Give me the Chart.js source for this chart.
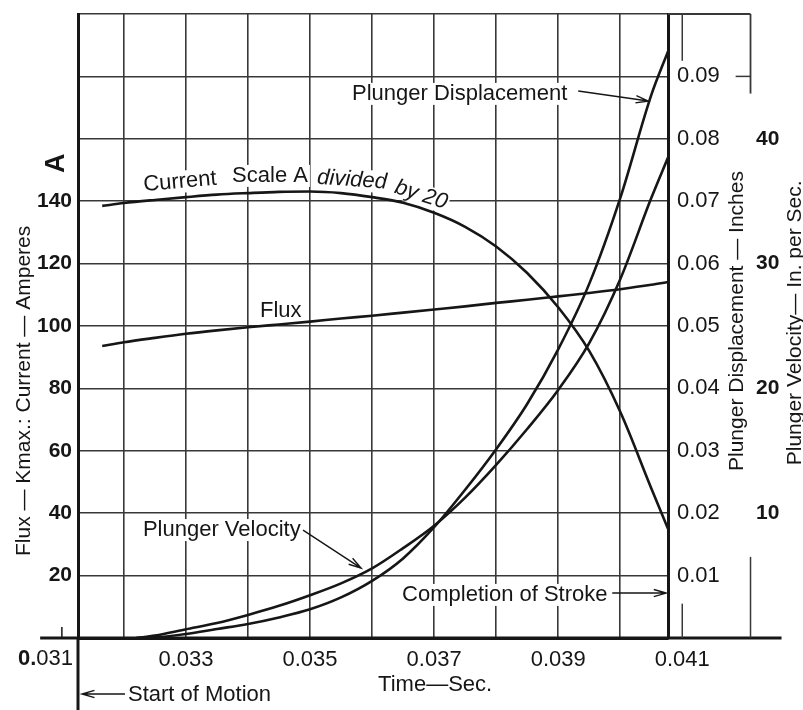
<!DOCTYPE html>
<html>
<head>
<meta charset="utf-8">
<script src="https://cdn.jsdelivr.net/npm/chart.js@4.4.1/dist/chart.umd.min.js"></script>
<style>
    html, body { margin: 0; padding: 0; background: #fff; }
    #wrap { width: 803px; height: 710px; }
</style>
</head>
<body>
<div id="wrap"><canvas id="grafica" width="803" height="710"></canvas></div>
<script>
/*********************************** DATOS LEIDOS DE LA GRAFICA ***********************************/
// tiempo (s) de las curvas de corriente y flujo
const timeA = [0.03165, 0.0320, 0.0325, 0.0330, 0.0335, 0.0340, 0.0345, 0.0350, 0.0355, 0.0360,
    0.0365, 0.0370, 0.0375, 0.0380, 0.0385, 0.0390, 0.0395, 0.0400, 0.0405, 0.04077];
// corriente (escala A dividida por 20) y flujo (Kmax), eje izquierdo
const current = [138.5, 139.4, 140.4, 141.3, 142.1, 142.6, 143.0, 143.1, 142.6, 141.3,
    139.5, 136.3, 131.8, 125.5, 117.0, 106.0, 92.0, 72.5, 48.0, 35.0];
const flux = [93.6, 94.8, 96.2, 97.5, 98.6, 99.6, 100.5, 101.4, 102.4, 103.3,
    104.3, 105.3, 106.3, 107.4, 108.4, 109.5, 110.6, 111.8, 113.2, 114.1];

// tiempo (s) del movimiento del embolo
const timeMotion = [0.0322, 0.0325, 0.0330, 0.0335, 0.0340, 0.0345, 0.0350, 0.0355, 0.0360, 0.0365,
    0.0370, 0.0375, 0.0380, 0.0385, 0.0390, 0.0395, 0.0400, 0.0405, 0.04077];
// desplazamiento (pulgadas) y velocidad (pulgadas por segundo)
const displacement = [0, 0.0001, 0.00065, 0.00145, 0.00225, 0.0033, 0.0046, 0.0065, 0.00915, 0.01275,
    0.01775, 0.02375, 0.03025, 0.0375, 0.04625, 0.05675, 0.0705, 0.087, 0.094];
const velocity = [0, 0.2, 0.7, 1.2, 1.85, 2.575, 3.425, 4.375, 5.575, 7.2,
    9.0, 11.25, 13.875, 16.75, 19.875, 23.625, 28.75, 35.25, 38.5];

// ticks de los ejes
const timeGrid = [0.032, 0.033, 0.034, 0.035, 0.036, 0.037, 0.038, 0.039, 0.040, 0.041];
const timeLabels = ["0.033", "0.035", "0.037", "0.039", "0.041"];
const leftGrid = [0, 20, 40, 60, 80, 100, 120, 140, 160, 180, 200];
const leftLabels = [20, 40, 60, 80, 100, 120, 140];
const dispLabels = [0.01, 0.02, 0.03, 0.04, 0.05, 0.06, 0.07, 0.08, 0.09];
const velLabels = [10, 20, 30, 40];

// inicio del movimiento y fin de carrera
const startOfMotion = 0.03126;
const endOfStroke = 0.04077;
/**************************************************************************************************/

const FONT = '"Liberation Sans", Arial, sans-serif';
const INK = "#161616";
const GRID = "#383838";

function pares(xs, ys) {
    return xs.map((x, i) => ({ x: x, y: ys[i] }));
}

function flecha(ctx, x1, y1, x2, y2) {
    const ang = Math.atan2(y2 - y1, x2 - x1);
    ctx.beginPath();
    ctx.moveTo(x1, y1);
    ctx.lineTo(x2, y2);
    ctx.moveTo(x2 - 13 * Math.cos(ang - 0.28), y2 - 13 * Math.sin(ang - 0.28));
    ctx.lineTo(x2, y2);
    ctx.lineTo(x2 - 13 * Math.cos(ang + 0.28), y2 - 13 * Math.sin(ang + 0.28));
    ctx.stroke();
}

function texto(ctx, str, x, y, font, align, angle, fondo) {
    ctx.save();
    ctx.translate(x, y);
    ctx.rotate(((angle || 0) * Math.PI) / 180);
    ctx.font = font;
    ctx.textAlign = align || "left";
    ctx.textBaseline = "middle";
    if (fondo) {
        const w = ctx.measureText(str).width;
        const x0 = ctx.textAlign === "left" ? 0 : ctx.textAlign === "center" ? -w / 2 : -w;
        ctx.fillStyle = "#fff";
        ctx.fillRect(x0 - 2, -11, w + 4, 22);
    }
    ctx.fillStyle = INK;
    ctx.fillText(str, 0, 0);
    ctx.restore();
}

function linea(ctx, x1, y1, x2, y2, w) {
    ctx.lineWidth = w;
    ctx.beginPath();
    ctx.moveTo(x1, y1);
    ctx.lineTo(x2, y2);
    ctx.stroke();
}

// Dibujos extra: etiquetas de curvas, titulos de ejes, trozos de rejilla fuera del area
const decoraciones = {
    id: "decoraciones",
    beforeDraw(chart) {
        const ctx = chart.ctx;
        ctx.save();
        ctx.fillStyle = "#fff";
        ctx.fillRect(0, 0, chart.width, chart.height);
        ctx.restore();
    },
    beforeDatasetsDraw(chart) {
        const ctx = chart.ctx;
        const px = (t) => chart.scales.x.getPixelForValue(t);
        const py = (v) => chart.scales.y.getPixelForValue(v);
        const f = "22px " + FONT;
        const fi = "italic 22px " + FONT;
        ctx.save();
        // etiquetas de las curvas
        texto(ctx, "Current", px(0.032903), py(146.2), f, "center", -5, true);
        texto(ctx, "Scale A", px(0.034355), py(148.1), f, "center", 0, true);
        texto(ctx, "divided", px(0.035677), py(146.8), fi, "center", 4, true);
        texto(ctx, "by 20", px(0.03679), py(142.0), fi, "center", 18, true);
        texto(ctx, "Flux", px(0.034194), py(104.8), f, "left", 0, true);
        texto(ctx, "Plunger Displacement", px(0.035677), py(174.4), f, "left", 0, true);
        texto(ctx, "Plunger Velocity", px(0.032306), py(34.6), f, "left", 0, true);
        texto(ctx, "Completion of Stroke", px(0.036484), py(13.8), f, "left", 0, true);

        // flechas
        ctx.strokeStyle = INK;
        ctx.lineWidth = 1.4;
        flecha(ctx, px(0.039323), py(175.3), px(0.040452), py(172.1));
        flecha(ctx, px(0.034887), py(34.6), px(0.035823), py(22.4));
        flecha(ctx, px(0.039871), py(14.4), px(0.040742), py(14.4));
        ctx.restore();
    },
    afterDraw(chart) {
        const ctx = chart.ctx;
        const area = chart.chartArea;
        const px = (t) => chart.scales.x.getPixelForValue(t);
        const py = (v) => chart.scales.y.getPixelForValue(v);
        ctx.save();
        ctx.strokeStyle = INK;

        // eje de tiempos prolongado y linea de inicio del movimiento
        linea(ctx, px(0.03065), py(0), px(0.0426), py(0), 3);
        linea(ctx, area.left, area.bottom, area.left, chart.height, 3);
        // marca de 0.031
        linea(ctx, px(0.031), py(0), px(0.031), py(0) - 11, 1.5);

        // trozos de rejilla a la derecha del fin de carrera
        ctx.strokeStyle = GRID;
        linea(ctx, px(endOfStroke), py(200), px(0.0421), py(200), 1.8);
        linea(ctx, px(0.0421), py(200), px(0.0421), py(174.5), 1.8);
        linea(ctx, px(0.04186), py(180), px(0.0421), py(180), 1.5);
        linea(ctx, px(0.041), py(200), px(0.041), py(185), 1.5);
        linea(ctx, px(0.041), py(11), px(0.041), py(0), 1.5);
        linea(ctx, px(0.0421), py(26), px(0.0421), py(0), 1.5);

        // etiqueta 0.031 con "0." en negrita
        ctx.font = "22px " + FONT;
        ctx.textAlign = "right";
        ctx.textBaseline = "middle";
        ctx.fillStyle = INK;
        const yLab = py(0) + 21;
        const xLab = area.left - 5;
        const w031 = ctx.measureText("031").width;
        ctx.fillText("031", xLab, yLab);
        ctx.font = "bold 22px " + FONT;
        ctx.fillText("0.", xLab - w031, yLab);

        // titulos de los ejes
        ctx.strokeStyle = INK;
        texto(ctx, "Time\u2014Sec.", px(0.036097), py(0) + 47, "22px " + FONT, "left", 0, false);
        texto(ctx, "Start of Motion", area.left + 50, py(0) + 57, "22px " + FONT, "left", 0, false);
        ctx.lineWidth = 1.4;
        flecha(ctx, area.left + 47, py(0) + 56, area.left + 4, py(0) + 56);

        texto(ctx, "Flux \u2014 Kmax.: Current \u2014 Amperes", area.left - 54, py(79.2), "21px " + FONT, "center", -90, false);
        texto(ctx, "A", area.left - 21, py(152.2), "bold 27px " + FONT, "center", -90, false);

        const yd = chart.scales.yDisp;
        const yv = chart.scales.yVel;
        texto(ctx, "Plunger Displacement \u2014 Inches", yd.left + 69, py(101.6), "21px " + FONT, "center", -90, false);
        texto(ctx, "Plunger Velocity\u2014 In. per Sec.", yv.left + 45, py(101), "21px " + FONT, "center", -90, false);
        ctx.restore();
    },
};

const estiloCurva = {
    borderColor: INK,
    borderWidth: 2.6,
    pointRadius: 0,
    fill: false,
    cubicInterpolationMode: "monotone",
};

const grafica = new Chart(document.getElementById("grafica"), {
    type: "line",
    data: {
        datasets: [
            { label: "Current", data: pares(timeA, current), yAxisID: "y", ...estiloCurva },
            { label: "Flux", data: pares(timeA, flux), yAxisID: "y", ...estiloCurva },
            { label: "Plunger Displacement", data: pares(timeMotion, displacement), yAxisID: "yDisp", ...estiloCurva },
            { label: "Plunger Velocity", data: pares(timeMotion, velocity), yAxisID: "yVel", ...estiloCurva },
        ],
    },
    options: {
        responsive: false,
        animation: false,
        layout: { padding: { top: 14, left: 0, right: 0, bottom: 0 } },
        plugins: { legend: { display: false }, tooltip: { enabled: false } },
        scales: {
            x: {
                type: "linear",
                min: startOfMotion,
                max: endOfStroke,
                afterBuildTicks: (s) => {
                    s.ticks = timeGrid.map((v) => ({ value: v }));
                },
                afterFit: (s) => {
                    s.height = 72;
                    s.paddingLeft = 0;
                    s.paddingRight = 0;
                },
                ticks: {
                    autoSkip: false,
                    maxRotation: 0,
                    padding: 9,
                    color: INK,
                    font: { family: FONT, size: 22 },
                    callback: (v) => timeLabels.find((l) => Math.abs(Number(l) - v) < 1e-7) || "",
                },
                grid: {
                    // la linea de 0.041 queda fuera del area: no se dibuja aqui
                    color: (c) => (c.tick && c.tick.value > endOfStroke ? "rgba(0,0,0,0)" : GRID),
                    lineWidth: 1.6,
                    drawTicks: false,
                },
                border: { color: INK, width: 3 },
            },
            y: {
                position: "left",
                min: 0,
                max: 200,
                afterBuildTicks: (s) => {
                    s.ticks = leftGrid.map((v) => ({ value: v }));
                },
                afterFit: (s) => {
                    s.width = 78;
                    s.paddingTop = 0;
                    s.paddingBottom = 0;
                },
                ticks: {
                    padding: 6,
                    color: INK,
                    font: { family: FONT, size: 21, weight: "bold" },
                    callback: (v) => (leftLabels.includes(v) ? String(v) : ""),
                },
                grid: { color: GRID, lineWidth: 1.6, drawTicks: false },
                border: { color: INK, width: 3 },
            },
            yDisp: {
                position: "right",
                min: 0,
                max: 0.1,
                afterBuildTicks: (s) => {
                    s.ticks = dispLabels.map((v) => ({ value: v }));
                },
                afterFit: (s) => {
                    s.width = 82;
                    s.paddingTop = 0;
                    s.paddingBottom = 0;
                },
                ticks: {
                    padding: 9,
                    color: INK,
                    font: { family: FONT, size: 22 },
                    callback: (v) => v.toFixed(2),
                },
                grid: { drawOnChartArea: false, drawTicks: false },
                border: { color: INK, width: 3 },
            },
            yVel: {
                position: "right",
                min: 0,
                max: 50,
                afterBuildTicks: (s) => {
                    s.ticks = velLabels.map((v) => ({ value: v }));
                },
                afterFit: (s) => {
                    s.width = 53;
                    s.paddingTop = 0;
                    s.paddingBottom = 0;
                },
                ticks: {
                    padding: 6,
                    color: INK,
                    font: { family: FONT, size: 21, weight: "bold" },
                    callback: (v) => String(v),
                },
                grid: { drawOnChartArea: false, drawTicks: false },
                border: { display: false },
            },
        },
    },
    plugins: [decoraciones],
});
</script>
</body>
</html>
